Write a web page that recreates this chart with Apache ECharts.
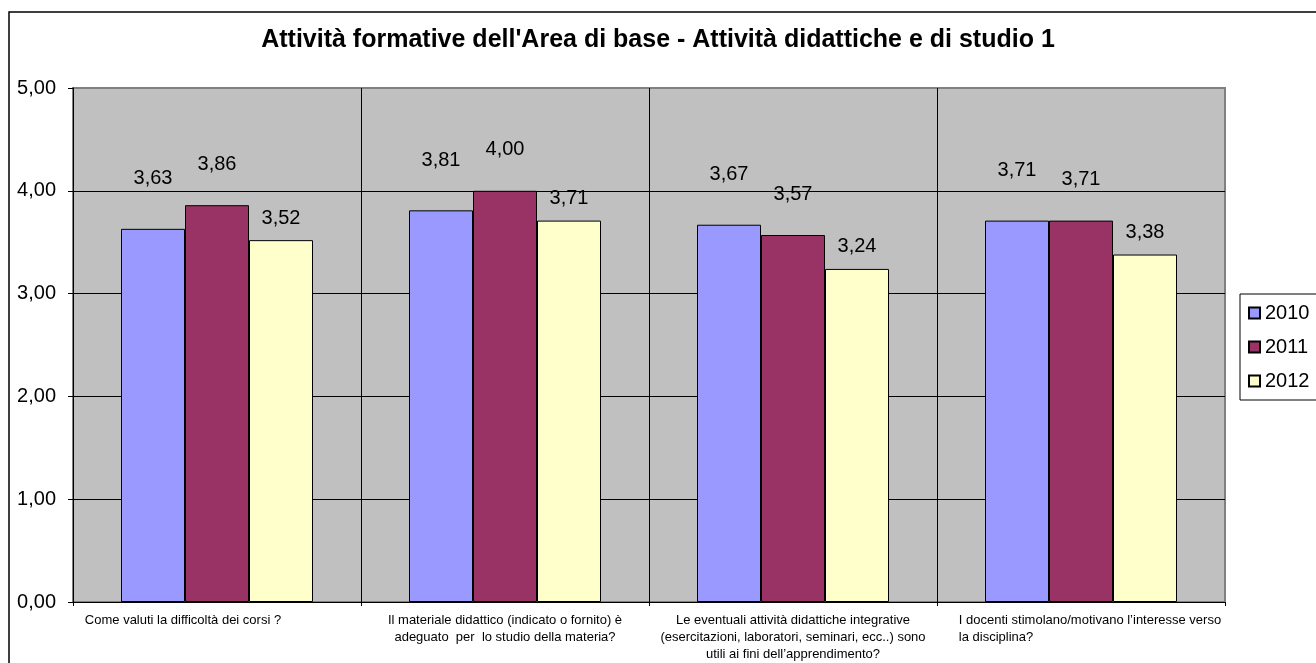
<!DOCTYPE html>
<html>
<head>
<meta charset="utf-8">
<title>Attività didattiche e di studio 1</title>
<script src="https://cdn.jsdelivr.net/npm/echarts@6/dist/echarts.min.js"></script>
<style>
    html, body { margin: 0; padding: 0; background: #fff; }
    #main { width: 1316px; height: 663px; }
</style>
</head>
<body>
<div id="main"></div>
<script>
const TITLE = "Attività formative dell'Area di base - Attività didattiche e di studio 1";
const CATEGORIES = [
    'Come valuti la difficoltà dei corsi ?',
    'Il materiale didattico (indicato o fornito) è\nadeguato  per  lo studio della materia?',
    'Le eventuali attività didattiche integrative\n(esercitazioni, laboratori, seminari, ecc..) sono\nutili ai fini dell’apprendimento?',
    'I docenti stimolano/motivano l’interesse verso\nla disciplina?'
];
const YEARS = ['2010', '2011', '2012'];
const VALUES_2010 = [3.63, 3.81, 3.67, 3.71];
const VALUES_2011 = [3.86, 4.00, 3.57, 3.71];
const VALUES_2012 = [3.52, 3.71, 3.24, 3.38];
const Y_TICKS = [0, 1, 2, 3, 4, 5];

const COLOR_LIST = ['#9999ff', '#993366', '#ffffcc'];
const LABEL_DIST = [40, 31, 12];          // excel sposta le etichette in modo diverso per serie
const CAT_PAD = [[0, 68, 0, 0], 0, 0, [0, 0, 0, 18]];   // spostamento etichette categorie
const FONT = 'Liberation Sans, Arial, sans-serif';

// virgola decimale all'italiana
function fmt(v) {
    return (+v).toFixed(2).replace('.', ',');
}

const seriesData = [VALUES_2010, VALUES_2011, VALUES_2012];

const chart = echarts.init(document.getElementById('main'));
chart.setOption({
    animation: false,
    backgroundColor: '#fff',
    title: {
        text: TITLE,
        left: 'center',
        top: 23,
        textStyle: {fontFamily: FONT, fontSize: 25, fontWeight: 'bold', color: '#000'}
    },
    graphic: [{
        type: 'rect',
        shape: {x: 9, y: 12, width: 1400, height: 700},
        style: {fill: 'none', stroke: '#000', lineWidth: 1.5},
        silent: true
    }],
    legend: {
        orient: 'vertical',
        left: 1240,
        top: 294,
        padding: [9, 60, 9, 8],
        itemGap: 14,
        itemWidth: 11,
        itemHeight: 11,
        icon: 'rect',
        borderColor: '#000',
        borderWidth: 1,
        textStyle: {fontFamily: FONT, fontSize: 20, color: '#000'},
        data: YEARS
    },
    grid: {
        left: 73,
        top: 88,
        right: 91,
        bottom: 61,
        show: true,
        backgroundColor: '#c0c0c0',
        borderColor: '#808080',
        borderWidth: 2
    },
    xAxis: {
        type: 'category',
        data: CATEGORIES.map((c, i) => ({value: c, textStyle: {padding: CAT_PAD[i]}})),
        axisLine: {lineStyle: {color: '#000', width: 1}},
        axisTick: {show: true, length: 4, lineStyle: {color: '#000'}},
        splitLine: {show: true, lineStyle: {color: ['#000', '#000', '#000', '#000', '#808080'], width: 1}},
        axisLabel: {
            interval: 0,
            margin: 10,
            fontFamily: FONT,
            fontSize: 13,
            lineHeight: 17,
            color: '#000',
            formatter: (val, idx) => {
                // l'ultima categoria ha le righe allineate a sinistra
                if (idx === 3) {
                    return val.split('\n').map(s => '{l|' + s + '}').join('\n');
                }
                return val;
            },
            rich: {
                l: {align: 'left', fontFamily: FONT, fontSize: 13, lineHeight: 17, color: '#000'}
            }
        }
    },
    yAxis: {
        type: 'value',
        min: Y_TICKS[0],
        max: Y_TICKS[Y_TICKS.length - 1],
        interval: 1,
        axisLine: {show: true, lineStyle: {color: '#000', width: 1}},
        axisTick: {show: true, length: 5, lineStyle: {color: '#000'}},
        splitLine: {lineStyle: {color: ['#000', '#000', '#000', '#000', '#000', '#808080'], width: 1}},
        axisLabel: {
            margin: 17,
            fontFamily: FONT,
            fontSize: 20,
            color: '#000',
            formatter: v => fmt(v)
        }
    },
    series: YEARS.map((y, i) => ({
        name: y,
        type: 'bar',
        data: seriesData[i],
        barWidth: 64,
        barGap: 0,
        itemStyle: {color: COLOR_LIST[i], borderColor: '#000', borderWidth: 1},
        label: {
            show: true,
            position: 'top',
            distance: LABEL_DIST[i],
            fontFamily: FONT,
            fontSize: 20,
            color: '#000',
            formatter: p => fmt(p.value)
        }
    }))
});
</script>
</body>
</html>
